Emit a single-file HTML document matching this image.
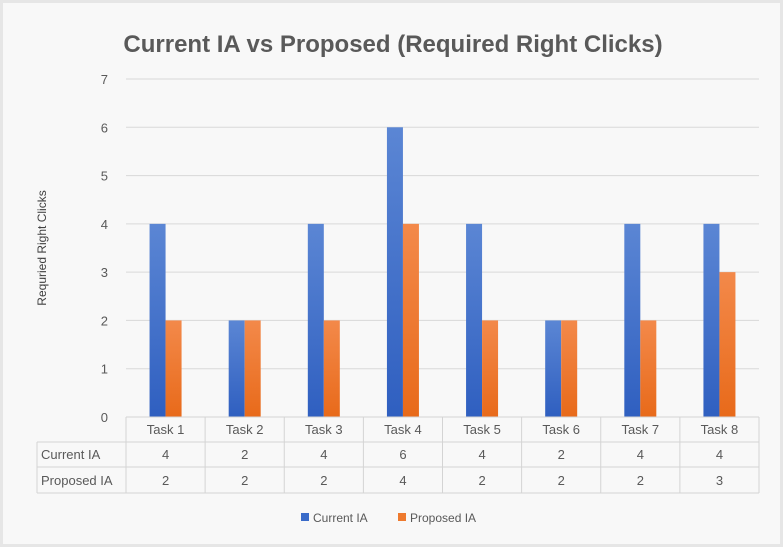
<!DOCTYPE html>
<html><head><meta charset="utf-8"><style>
body{margin:0;background:#fff;}
svg{display:block;font-family:"Liberation Sans",sans-serif;}
</style></head><body>
<svg width="783" height="547" viewBox="0 0 783 547">
<defs>
<linearGradient id="gb" x1="0" y1="0" x2="0" y2="1"><stop offset="0" stop-color="#5b86d4"/><stop offset="1" stop-color="#2f5fc0"/></linearGradient>
<linearGradient id="go" x1="0" y1="0" x2="0" y2="1"><stop offset="0" stop-color="#f3894a"/><stop offset="1" stop-color="#e86a1a"/></linearGradient>
</defs>
<rect x="0" y="0" width="783" height="547" fill="#e6e6e6"/>
<rect x="3" y="3" width="777" height="541" fill="#f8f8f8"/>
<text x="393" y="52" text-anchor="middle" font-size="24" font-weight="bold" fill="#595959">Current IA vs Proposed (Required Right Clicks)</text>
<text transform="translate(46,248) rotate(-90)" text-anchor="middle" font-size="12" fill="#404040">Requried Right Clicks</text>
<g id="grid"></g><g id="bars"></g><g id="table"></g>
<g>
<rect x="301" y="513" width="8" height="8" fill="#3a6bc9"/>
<text x="313" y="522" font-size="12" fill="#595959">Current IA</text>
<rect x="398" y="513" width="8" height="8" fill="#ee7a2e"/>
<text x="410" y="522" font-size="12" fill="#595959">Proposed IA</text>
</g>
</svg>
<script>
const categories=["Task 1","Task 2","Task 3","Task 4","Task 5","Task 6","Task 7","Task 8"];
const currentIA=[4,2,4,6,4,2,4,4];
const proposedIA=[2,2,2,4,2,2,2,3];
const yTicks=[0,1,2,3,4,5,6,7];
const NS="http://www.w3.org/2000/svg";
const X0=126,X1=759,Y0=417,YMAX=7,YTOP=79;
const bw=(X1-X0)/categories.length;
const y=v=>Y0-(Y0-YTOP)*v/YMAX;
const xc=i=>X0+bw*(i+0.5);
function mk(parent,tag,a){const e=document.createElementNS(NS,tag);for(const k in a)e.setAttribute(k,a[k]);document.getElementById(parent).appendChild(e);return e;}
yTicks.forEach(t=>{
 const l=mk('grid','line',{x1:X0,x2:X1,y1:y(t),y2:y(t),stroke:'#d9d9d9','stroke-width':1});
 
 
 const tx=mk('grid','text',{x:108,y:y(t)+5,'text-anchor':'end','font-size':13,fill:'#595959'});
 tx.textContent=t;
 
 
});
const w=16;
categories.forEach((c,i)=>{
 const b=mk('bars','rect',{x:xc(i)-w,y:y(currentIA[i]),width:w,height:Y0-y(currentIA[i]),fill:'url(#gb)'});
 
 
 const o=mk('bars','rect',{x:xc(i),y:y(proposedIA[i]),width:w,height:Y0-y(proposedIA[i]),fill:'url(#go)'});
 
 
});
// table
const rows=[417,442,467,493];
const st={stroke:'#d4d4d4','stroke-width':1,fill:'none'};
mk('table','line',Object.assign({x1:X0,x2:X1,y1:417,y2:417},st));
[442,467,493].forEach(r=>mk('table','line',Object.assign({x1:37,x2:X1,y1:r,y2:r},st)));
mk('table','line',Object.assign({x1:37,x2:37,y1:442,y2:493},st));
for(let i=0;i<=categories.length;i++)mk('table','line',Object.assign({x1:X0+bw*i,x2:X0+bw*i,y1:417,y2:493},st));
function txt(x,yy,s,anchor,name){const t=mk('table','text',{x:x,y:yy,'text-anchor':anchor,'font-size':13,fill:'#595959'});t.textContent=s;
 
 }
txt(41,459,'Current IA','start','row-label-current');
txt(41,485,'Proposed IA','start','row-label-proposed');
categories.forEach((c,i)=>{
 txt(xc(i),434,c,'middle','category-label');
 txt(xc(i),459,String(currentIA[i]),'middle','table-value-current');
 txt(xc(i),485,String(proposedIA[i]),'middle','table-value-proposed');
});
</script>
</body></html>
